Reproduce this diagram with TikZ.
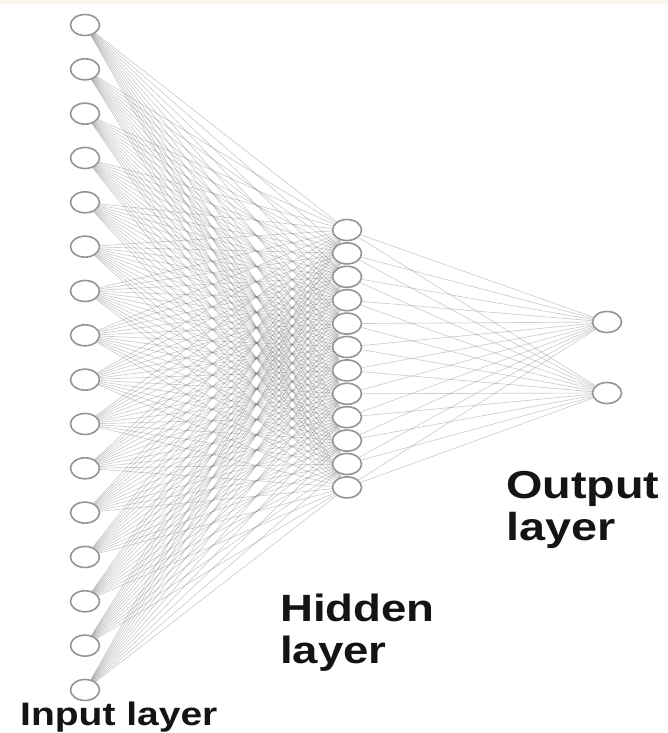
\documentclass[tikz,border=0pt]{standalone}
\usepackage{fontspec}
\setmainfont{Liberation Sans}
\newfontfamily\layerfont{Liberation Sans}[FakeStretch=1.2]
\usetikzlibrary{shapes.geometric}
\pgfdeclarelayer{background}
\pgfsetlayers{background,main}
\definecolor{paper}{RGB}{251,247,238}
\tikzset{
  neuron/.style={ellipse, draw=black!42, line width=1.6pt, fill=white,
    minimum width=29pt, minimum height=21pt, inner sep=0pt},
  synapse/.style={draw=black!60, line width=0.65pt, opacity=0.33},
  layername/.style={anchor=base west, inner sep=0pt, align=left,
    text=black!92, font=\layerfont\bfseries\fontsize{38}{41.5}\selectfont}
}

\begin{document}
\begin{tikzpicture}[x=1pt, y=-1pt]
  \useasboundingbox (0,0) rectangle (668,733);
  \fill[paper] (0,0) rectangle (668,4);
  \foreach \i in {1,...,16}
    \node[neuron] (I\i) at (85, {25+(\i-1)*44.33}) {};
  \foreach \j in {1,...,12}
    \node[neuron] (H\j) at (347, {230+(\j-1)*23.4}) {};
  \node[neuron] (O1) at (607,322) {};
  \node[neuron] (O2) at (607,393) {};
  \begin{pgfonlayer}{background}
    \foreach \i in {1,...,16}
      \foreach \j in {1,...,12}
        \path[synapse] (I\i) -- (H\j);
    \foreach \j in {1,...,12}
      \foreach \k in {1,2}
        \path[synapse] (H\j) -- (O\k);
  \end{pgfonlayer}
  \node[layername, font=\layerfont\bfseries\fontsize{32.5}{36}\selectfont] (Lin) at (20,725) {Input layer};
  \node[layername] (Lhid) at (280,663) {Hidden\\layer};
  \node[layername, font=\layerfont\bfseries\fontsize{39}{42}\selectfont] (Lout) at (506,540) {Output\\layer};
\end{tikzpicture}
\end{document}
